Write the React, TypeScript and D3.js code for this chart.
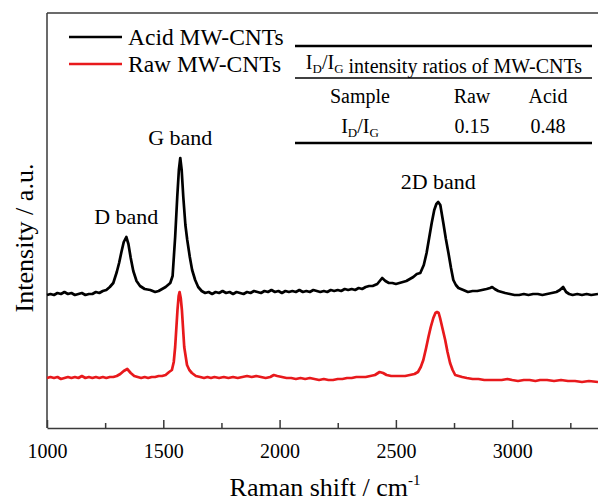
import React, { useEffect, useRef } from 'react';
import * as d3 from 'd3';

// Raman spectra (shift in cm-1, intensity in a.u.)
const acidShift = [
  1000, 1015, 1030, 1045, 1060, 1075, 1090, 1105, 1120, 1135, 1150, 1165, 1180, 1195, 1210, 1225,
  1240, 1255, 1270, 1285, 1300, 1310, 1320, 1330, 1341, 1350, 1360, 1371, 1385, 1400, 1420, 1444,
  1465, 1480, 1495, 1510, 1530, 1540, 1551, 1560, 1567, 1573, 1579, 1586, 1595, 1603, 1614, 1624,
  1637, 1650, 1665, 1680, 1695, 1710, 1725, 1740, 1755, 1770, 1785, 1800, 1815, 1830, 1845, 1860,
  1875, 1890, 1905, 1920, 1935, 1950, 1965, 1980, 1995, 2010, 2025, 2040, 2055, 2070, 2085, 2100,
  2115, 2130, 2145, 2160, 2175, 2190, 2205, 2220, 2235, 2250, 2265, 2280, 2295, 2310, 2325, 2340,
  2355, 2370, 2385, 2400, 2420, 2441, 2455, 2470, 2485, 2500, 2515, 2530, 2545, 2560, 2575, 2590,
  2605, 2620, 2632, 2643, 2654, 2665, 2674, 2682, 2691, 2704, 2715, 2726, 2737, 2747, 2758, 2769,
  2790, 2810, 2830, 2850, 2870, 2890, 2905, 2914, 2925, 2940, 2955, 2970, 2990, 3010, 3030, 3050,
  3070, 3090, 3110, 3130, 3150, 3170, 3190, 3205, 3219, 3232, 3245, 3260, 3280, 3300, 3320, 3340,
  3369,
];
const acidIntensity = [
  133, 134, 133, 135, 134, 136, 134, 135, 133, 134, 135, 133, 134, 134, 136, 135,
  137, 138, 141, 145, 156, 165, 176, 186, 191, 184, 170, 157, 147, 142, 139, 138,
  136, 137, 139, 141, 145, 152, 191, 231, 258, 270, 258, 231, 203, 188, 171, 158,
  148, 141, 137, 135, 136, 134, 136, 135, 137, 135, 136, 134, 136, 135, 134, 136,
  135, 137, 136, 135, 137, 136, 138, 136, 137, 135, 137, 136, 137, 136, 138, 136,
  137, 136, 138, 137, 136, 137, 136, 138, 137, 138, 137, 139, 138, 139, 138, 140,
  139, 141, 142, 142, 144, 150, 147, 145, 145, 144, 145, 146, 147, 149, 151, 154,
  155, 163, 175, 190, 205, 218, 224, 226, 223, 205, 189, 175, 160, 148, 143, 140,
  138, 136, 137, 137, 138, 139, 140, 141, 139, 137, 136, 135, 134, 133, 133, 134,
  133, 134, 134, 133, 134, 135, 136, 138, 141, 136, 134, 133, 134, 133, 134, 133,
  134,
];

const rawShift = [
  1000, 1015, 1030, 1045, 1060, 1075, 1090, 1105, 1120, 1135, 1150, 1165, 1180, 1195, 1210, 1225,
  1240, 1255, 1270, 1285, 1300, 1315, 1330, 1345, 1360, 1375, 1390, 1405, 1420, 1435, 1450, 1465,
  1480, 1495, 1510, 1525, 1537, 1545, 1551, 1561, 1566, 1570, 1575, 1580, 1590, 1602, 1612, 1623,
  1640, 1659, 1675, 1690, 1705, 1720, 1740, 1760, 1780, 1800, 1820, 1840, 1860, 1880, 1900, 1920,
  1940, 1960, 1975, 1990, 2010, 2030, 2050, 2070, 2090, 2110, 2130, 2150, 2170, 2190, 2210, 2230,
  2250, 2270, 2290, 2310, 2330, 2350, 2370, 2390, 2410, 2430, 2445, 2460, 2480, 2500, 2520, 2540,
  2560, 2580, 2595, 2607, 2618, 2630, 2640, 2650, 2661, 2670, 2677, 2684, 2690, 2701, 2712, 2722,
  2733, 2744, 2755, 2770, 2785, 2805, 2830, 2855, 2880, 2905, 2930, 2955, 2980, 3000, 3025, 3050,
  3075, 3100, 3120, 3150, 3180, 3210, 3240, 3270, 3300, 3330, 3369,
];
const rawIntensity = [
  50, 51, 50, 51, 49, 50, 51, 50, 51, 50, 52, 50, 51, 50, 51, 50,
  51, 50, 51, 51, 52, 54, 57, 59, 55, 52, 51, 50, 51, 50, 51, 51,
  52, 52, 53, 56, 58, 66, 81, 118, 132, 136, 130, 118, 81, 63, 58, 55,
  52, 51, 50, 51, 50, 51, 50, 51, 50, 51, 50, 51, 52, 51, 52, 51,
  50, 51, 53, 52, 51, 50, 50, 49, 50, 49, 50, 49, 48, 49, 48, 48,
  49, 49, 50, 50, 51, 51, 51, 52, 53, 56, 55, 53, 52, 52, 52, 52,
  53, 54, 56, 61, 68, 80, 91, 101, 110, 115, 116, 115, 110, 99, 88, 76,
  65, 58, 53, 52, 51, 50, 49, 49, 48, 48, 48, 48, 49, 48, 47, 48,
  48, 47, 48, 48, 47, 48, 47, 47, 46, 47, 46,
];

const majorTicks = [1000, 1500, 2000, 2500, 3000];
const minorTicks = [1250, 1750, 2250, 2750, 3250];

const bandNames = ['D band', 'G band', '2D band'];
const bandShifts = [1341, 1573, 2682];
const bandPeaks = [191, 270, 226];

const legendNames = ['Acid MW-CNTs', 'Raw MW-CNTs'];
const legendColors = ['#000000', '#e8191c'];

const tableColumns = ['Sample', 'Raw', 'Acid'];
const tableRatios = ['0.15', '0.48'];

const FONT = '"Liberation Serif", "Times New Roman", serif';

export default function App() {
  const ref = useRef<SVGSVGElement>(null);

  useEffect(() => {
    const svg = d3.select(ref.current);
    svg.selectAll('*').remove();

    const left = 47, right = 598, top = 13, bottom = 428;

    // x比例尺 (cropped on the right, like the figure)
    const x = d3.scaleLinear().domain([1000, 3369]).range([left, right]);
    // y比例尺, arbitrary units
    const y = d3.scaleLinear().domain([0, 415]).range([bottom, top]);

    const axisColor = '#3a3a3a';

    // frame: top and left
    svg.append('line')
      .attr('x1', left).attr('x2', right).attr('y1', top).attr('y2', top)
      .attr('stroke', axisColor).attr('stroke-width', 1.5);
    svg.append('line')
      .attr('x1', left).attr('x2', left).attr('y1', top).attr('y2', bottom)
      .attr('stroke', axisColor).attr('stroke-width', 1.5);

    // x轴, ticks pointing inwards
    const xAxis = svg.append('g')
      .attr('transform', 'translate(0,' + bottom + ')')
      .call(d3.axisBottom(x).tickValues(majorTicks).tickSizeInner(-8).tickSizeOuter(0).tickFormat(d3.format('d')));
    xAxis.attr('font-family', FONT);
    xAxis.select('.domain').attr('stroke', axisColor).attr('stroke-width', 1.5);
    xAxis.selectAll('.tick line').attr('stroke', axisColor).attr('stroke-width', 1.5);
    xAxis.selectAll('.tick text')
      .attr('y', 30).attr('dy', 0)
      .attr('fill', '#000')
      .style('font-family', FONT).style('font-size', '20px');

    const minor = svg.append('g')
      .attr('transform', 'translate(0,' + bottom + ')')
      .call(d3.axisBottom(x).tickValues(minorTicks).tickSizeInner(-5).tickSizeOuter(0).tickFormat(() => ''));
    minor.select('.domain').remove();
    minor.selectAll('.tick line').attr('stroke', axisColor).attr('stroke-width', 1.5);

    // spectra
    const line = d3.line<[number, number]>()
      .x(d => x(d[0]))
      .y(d => y(d[1]));

    const acid = acidShift.map((s, i) => [s, acidIntensity[i]] as [number, number]);
    const raw = rawShift.map((s, i) => [s, rawIntensity[i]] as [number, number]);

    svg.append('path')
      .datum(raw)
      .attr('d', line)
      .attr('fill', 'none')
      .attr('stroke', legendColors[1])
      .attr('stroke-width', 2.7)
      .attr('stroke-linejoin', 'round');

    svg.append('path')
      .datum(acid)
      .attr('d', line)
      .attr('fill', 'none')
      .attr('stroke', legendColors[0])
      .attr('stroke-width', 2.7)
      .attr('stroke-linejoin', 'round');

    // band labels
    svg.selectAll('.band')
      .data(bandNames)
      .enter()
      .append('text')
      .attr('class', 'band')
      .attr('x', (d, i) => x(bandShifts[i]))
      .attr('y', (d, i) => y(bandPeaks[i]) - 13)
      .attr('text-anchor', 'middle')
      .style('font-family', FONT)
      .style('font-size', '22px')
      .text(d => d);

    // axis titles
    const xTitle = svg.append('text')
      .attr('x', 325).attr('y', 496)
      .attr('text-anchor', 'middle')
      .style('font-family', FONT).style('font-size', '26px');
    xTitle.append('tspan').text('Raman shift / cm');
    xTitle.append('tspan').attr('dy', -11).style('font-size', '15px').text('-1');

    svg.append('text')
      .attr('transform', 'translate(33,238) rotate(-90)')
      .attr('text-anchor', 'middle')
      .style('font-family', FONT).style('font-size', '26px')
      .text('Intensity / a.u.');

    // legend
    legendNames.forEach((name, i) => {
      const ly = 37 + i * 27;
      svg.append('line')
        .attr('x1', 69).attr('x2', 122).attr('y1', ly).attr('y2', ly)
        .attr('stroke', legendColors[i]).attr('stroke-width', 2.7);
      svg.append('text')
        .attr('x', 128).attr('y', ly + 7.5)
        .style('font-family', FONT).style('font-size', '23.5px')
        .text(name);
    });

    // table of I_D/I_G ratios
    const tl = 295, tr = 592;
    svg.append('line').attr('x1', tl).attr('x2', tr).attr('y1', 46).attr('y2', 46)
      .attr('stroke', '#000').attr('stroke-width', 2.5);
    svg.append('line').attr('x1', tl).attr('x2', tr).attr('y1', 78).attr('y2', 78)
      .attr('stroke', '#000').attr('stroke-width', 1.3);
    svg.append('line').attr('x1', tl).attr('x2', tr).attr('y1', 143).attr('y2', 143)
      .attr('stroke', '#000').attr('stroke-width', 2.5);

    const ratioLabel = (sel: any) => {
      sel.append('tspan').text('I');
      sel.append('tspan').attr('dy', 4).style('font-size', '13px').text('D');
      sel.append('tspan').attr('dy', -4).text('/I');
      sel.append('tspan').attr('dy', 4).style('font-size', '13px').text('G');
      sel.append('tspan').attr('dy', -4).text('');
    };

    const title = svg.append('text')
      .attr('x', 444).attr('y', 69)
      .attr('text-anchor', 'middle')
      .style('font-family', FONT).style('font-size', '20px');
    ratioLabel(title);
    title.append('tspan').text(' intensity ratios of MW-CNTs');

    const colX = [360, 472, 548];
    tableColumns.forEach((c, i) => {
      svg.append('text')
        .attr('x', colX[i]).attr('y', 103)
        .attr('text-anchor', 'middle')
        .style('font-family', FONT).style('font-size', '20px')
        .text(c);
    });
    const rowLabel = svg.append('text')
      .attr('x', colX[0]).attr('y', 133)
      .attr('text-anchor', 'middle')
      .style('font-family', FONT).style('font-size', '20px');
    ratioLabel(rowLabel);
    tableRatios.forEach((r, i) => {
      svg.append('text')
        .attr('x', colX[i + 1]).attr('y', 133)
        .attr('text-anchor', 'middle')
        .style('font-family', FONT).style('font-size', '20px')
        .text(r);
    });
  }, []);

  return (
    <svg ref={ref} width={598} height={501}
         style={{ position: 'absolute', left: 0, top: 0, background: '#fff' }} />
  );
}
